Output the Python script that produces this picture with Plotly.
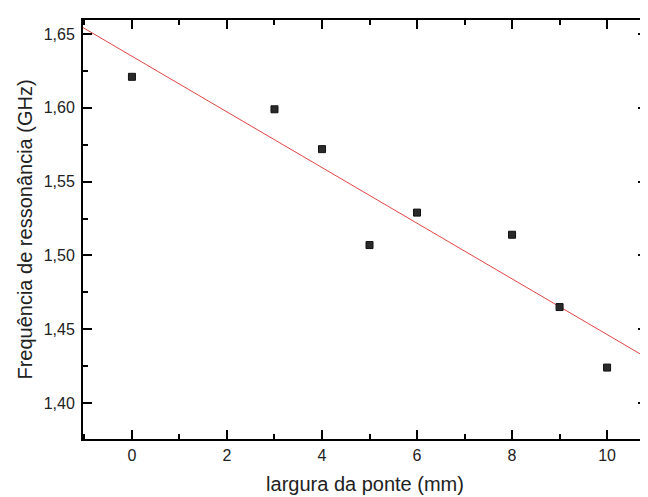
import numpy as np
import plotly.graph_objects as go

# Data
largura_mm = [0, 3, 4, 5, 6, 8, 9, 10]
frequencia_ghz = [1.621, 1.599, 1.572, 1.507, 1.529, 1.514, 1.465, 1.424]

x_tick_vals = [0, 2, 4, 6, 8, 10]
y_tick_vals = [1.40, 1.45, 1.50, 1.55, 1.60, 1.65]

x_range = [-1.03, 10.84]
y_range = [1.3756, 1.6595]

# Linear fit through the data
slope, intercept = np.polyfit(largura_mm, frequencia_ghz, 1)
fit_x = np.array(x_range)
fit_y = slope * fit_x + intercept

fig = go.Figure()
fig.add_trace(go.Scatter(
    x=fit_x, y=fit_y, mode="lines",
    line=dict(color="rgb(225,70,70)", width=1),
    showlegend=False, hoverinfo="skip"))
fig.add_trace(go.Scatter(
    x=largura_mm, y=frequencia_ghz, mode="markers",
    marker=dict(symbol="square", size=7, color="#2a2a2a",
                line=dict(color="#111111", width=1)),
    showlegend=False))

font_family = "Liberation Sans, Arial, sans-serif"
axis_common = dict(
    showline=True, linecolor="black", linewidth=2, mirror="ticks",
    ticks="inside", ticklen=9, tickwidth=2, tickcolor="black",
    showgrid=False, zeroline=False,
    tickfont=dict(family=font_family, size=16, color="#222222"),
)

fig.update_layout(
    width=640, height=489,
    margin=dict(l=75, r=1, t=12, b=58),
    paper_bgcolor="white", plot_bgcolor="white",
    separators=",.",
    font=dict(family=font_family, color="#222222"),
    xaxis=dict(
        range=x_range, tickvals=x_tick_vals, tickformat="d",
        minor=dict(ticks="inside", ticklen=5, tickwidth=2, tickcolor="black", dtick=1, tick0=0),
        title=dict(text="largura da ponte (mm)", font=dict(size=20, family=font_family), standoff=14),
        ticklabelstandoff=1,
        automargin=False,
        **axis_common),
    yaxis=dict(
        range=y_range, tickvals=y_tick_vals, tickformat=".2f",
        minor=dict(ticks="inside", ticklen=5, tickwidth=2, tickcolor="black", dtick=0.025, tick0=1.4),
        title=dict(text="Frequência de ressonância (GHz)", font=dict(size=20, family=font_family), standoff=6),
        ticklabelstandoff=3,
        automargin=False,
        **axis_common),
)

fig.write_html("out.html")
